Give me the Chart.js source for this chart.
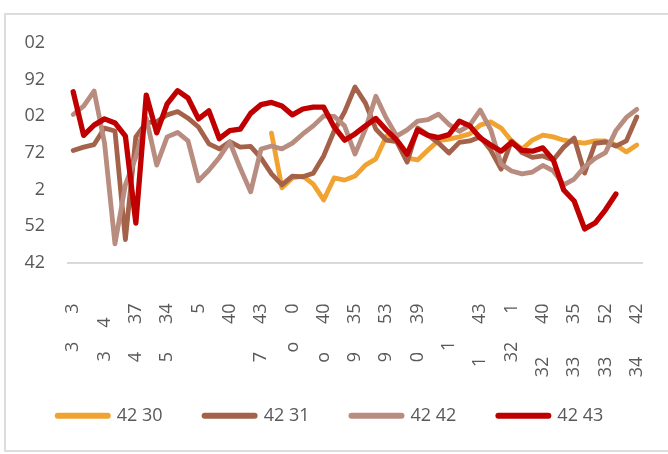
<!DOCTYPE html>
<html>
<head>
<meta charset="utf-8">
<script src="https://cdn.jsdelivr.net/npm/chart.js@4.4.1/dist/chart.umd.min.js"></script>
<style>
  html, body { margin: 0; padding: 0; background: #fff; overflow: hidden; }
  #wrap { position: relative; width: 668px; height: 454px; }
  #frame { position: absolute; left: 4px; top: 13px; width: 700px; height: 439px; border: 2px solid #dcdcdc; box-sizing: border-box; }
  canvas { position: absolute; left: 0; top: 0; }
</style>
</head>
<body>
<div id="wrap">
  <div id="frame"></div>
  <canvas id="chart" width="668" height="454"></canvas>
</div>
<script>
/* ---- DATA ---- */
// rotated x labels, one every 3rd category (read bottom to top)
const tickLabels = [
  '3      3', '3     4   ', '4      37', '5      34', '5', '40', '7      43',
  'o      0', 'o      40', '9      35', '9      53', '0      39', '1        ',
  '1       43', '32      1', '32       40', '33       35', '33       52', '34       42'
];
const yTickLabels = ['42', '52', '2', '72', '02', '92', '02'];
const seriesNames = ['42 30', '42 31', '42 42', '42 43'];

const s4230 = [null, null, null, null, null, null, null, null, null, null,
  null, null, null, null, null, null, null, null, null,
  3.54, 2.05, 2.32, 2.37, 2.15, 1.72, 2.32, 2.26, 2.37, 2.67, 2.84,
  3.46, 3.33, 2.86, 2.81, 3.08, 3.34, 3.38, 3.44, 3.52, 3.76,
  3.85, 3.68, 3.33, 3.11, 3.35, 3.49, 3.44, 3.35, 3.30, 3.27,
  3.33, 3.33, 3.22, 3.03, 3.22];
const s4231 = [3.07, 3.16, 3.23, 3.68, 3.60, 0.64, 3.44, 3.83, 3.85, 4.04,
  4.13, 3.95, 3.71, 3.25, 3.11, 3.31, 3.16, 3.18, 2.86, 2.43,
  2.13, 2.37, 2.35, 2.45, 2.92, 3.60, 4.12, 4.80, 4.36, 3.65,
  3.35, 3.31, 2.75, 3.68, 3.49, 3.27, 3.00, 3.29, 3.33, 3.44,
  3.08, 2.56, 3.33, 3.01, 2.88, 2.92, 2.81, 3.16, 3.41, 2.45,
  3.26, 3.30, 3.19, 3.33, 3.98];
const s4242 = [4.05, 4.28, 4.69, 3.27, 0.52, 2.13, 2.89, 3.95, 2.67, 3.44,
  3.56, 3.33, 2.24, 2.53, 2.88, 3.30, 2.59, 1.94, 3.11, 3.19,
  3.11, 3.27, 3.52, 3.74, 4.01, 4.00, 3.74, 2.97, 3.65, 4.55,
  3.95, 3.46, 3.63, 3.87, 3.91, 4.06, 3.78, 3.59, 3.76, 4.17,
  3.64, 2.70, 2.51, 2.43, 2.48, 2.66, 2.51, 2.13, 2.29, 2.62,
  2.85, 3.01, 3.61, 3.97, 4.19];
const s4243 = [4.67, 3.48, 3.76, 3.93, 3.82, 3.46, 1.09, 4.58, 3.55, 4.34,
  4.70, 4.50, 3.93, 4.15, 3.39, 3.61, 3.65, 4.08, 4.32, 4.38,
  4.28, 4.04, 4.20, 4.25, 4.25, 3.71, 3.35, 3.52, 3.74, 3.94,
  3.63, 3.35, 2.97, 3.63, 3.48, 3.42, 3.50, 3.87, 3.74, 3.41,
  3.22, 3.05, 3.29, 3.07, 3.05, 3.14, 2.81, 1.99, 1.69, 0.93,
  1.09, 1.45, 1.88, null, null];

// trailing spaces push the rotated text down from the axis line
const LABEL_GAP = '        ';
const categories = s4243.map((_, i) => i % 3 === 0 ? tickLabels[i / 3] + LABEL_GAP : '');

/* ---- STYLE ---- */
const FONT = "'Open Sans', sans-serif";
const TEXT = '#595959';
const COLORS = ['#F1A332', '#A5624A', '#B98C80', '#C00000'];

function line(name, data, color, order, width) {
  return {
    label: name,
    data: data,
    yAxisID: 'y',
    borderColor: color,
    backgroundColor: color,
    borderWidth: width,
    borderJoinStyle: 'round',
    borderCapStyle: 'round',
    pointRadius: 0,
    pointStyle: 'line',
    tension: 0,
    fill: false,
    order: order
  };
}

/* ---- CHART ---- */
new Chart(document.getElementById('chart'), {
  type: 'line',
  data: {
    labels: categories,
    datasets: [
      line(seriesNames[0], s4230, COLORS[0], 3, 4.8),
      line(seriesNames[1], s4231, COLORS[1], 2, 4.8),
      line(seriesNames[2], s4242, COLORS[2], 1, 4.8),
      line(seriesNames[3], s4243, COLORS[3], 0, 5.3)
    ]
  },
  options: {
    responsive: false,
    animation: false,
    layout: { padding: { left: 7, right: 0, top: 43, bottom: 19.3 } },
    plugins: {
      tooltip: { enabled: false },
      legend: {
        position: 'bottom',
        maxHeight: 56,
        labels: {
          usePointStyle: true,
          pointStyleWidth: 50,
          padding: 28,
          color: TEXT,
          font: { family: FONT, size: 18 },
          sort: (a, b) => a.datasetIndex - b.datasetIndex,
          generateLabels: chart => Chart.defaults.plugins.legend.labels.generateLabels(chart)
            .map(item => Object.assign(item, { text: item.text + '   ', lineWidth: 6, lineCap: 'round' }))
        }
      }
    },
    scales: {
      x: {
        offset: true,
        grid: { display: false, drawTicks: false },
        border: { color: '#d9d9d9', width: 2 },
        ticks: {
          autoSkip: false, minRotation: 90, maxRotation: 90, padding: 3,
          color: TEXT, font: { family: FONT, size: 18 }
        },
        afterFit: s => { s.height = 115.7; }
      },
      y: {
        min: 0, max: 6,
        grid: { display: false, drawTicks: false },
        border: { display: false },
        ticks: {
          stepSize: 1, padding: 23,
          color: TEXT, font: { family: FONT, size: 18 },
          callback: v => yTickLabels[v]
        },
        afterFit: s => { s.width = 61; }
      },
      // empty right-hand strip so the plot ends where the reference does
      yRight: {
        type: 'linear',
        position: 'right',
        grid: { display: false, drawTicks: false },
        border: { display: false },
        ticks: { display: false },
        afterFit: s => { s.width = 26; }
      }
    }
  }
});
</script>
</body>
</html>
